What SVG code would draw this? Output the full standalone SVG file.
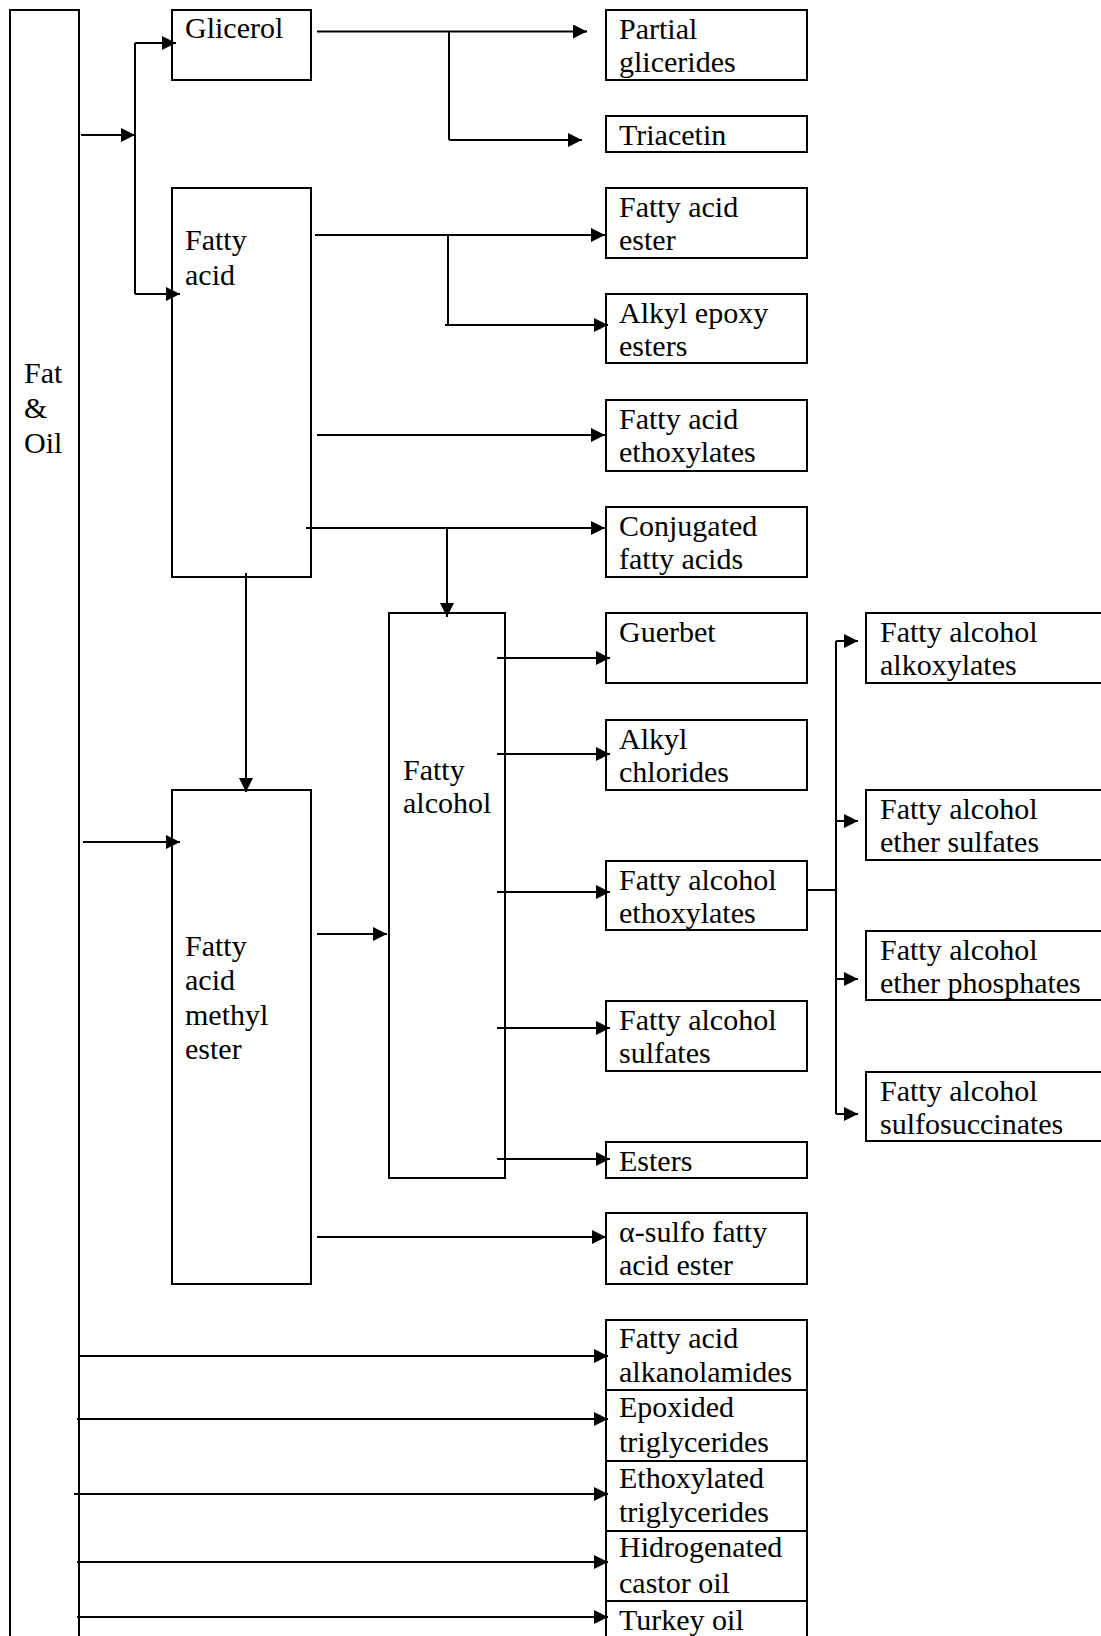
<svg xmlns="http://www.w3.org/2000/svg" width="1101" height="1636" viewBox="0 0 1101 1636">
<style>
rect.box{fill:#fff;stroke:#000;stroke-width:2}
text{font-family:"Liberation Serif","Times New Roman",serif;font-size:30px;fill:#000}
.c line,.c path{stroke:#000;stroke-width:2;fill:none}
</style>
<defs>
<marker id="ah" markerUnits="userSpaceOnUse" markerWidth="14" markerHeight="14" refX="14" refY="7" orient="auto">
<path d="M0,0 L14,7 L0,14 z" fill="#000"/>
</marker>
</defs>
<rect width="1101" height="1636" fill="#fff"/>
<g id="fat-oil"><rect class="box" x="10" y="10" width="69" height="1640"/><text x="24" y="383">Fat</text><text x="24" y="418">&amp;</text><text x="24" y="453">Oil</text></g>
<g id="glicerol"><rect class="box" x="172" y="10" width="139" height="70"/><text x="185" y="38">Glicerol</text></g>
<g id="fatty-acid"><rect class="box" x="172" y="188" width="139" height="389"/><text x="185" y="250">Fatty</text><text x="185" y="285">acid</text></g>
<g id="fame"><rect class="box" x="172" y="790" width="139" height="494"/><text x="185" y="956">Fatty</text><text x="185" y="990">acid</text><text x="185" y="1025">methyl</text><text x="185" y="1059">ester</text></g>
<g id="fatty-alcohol"><rect class="box" x="389" y="613" width="116" height="565"/><text x="403" y="780">Fatty</text><text x="403" y="813">alcohol</text></g>
<g id="partial-glicerides"><rect class="box" x="606" y="10" width="201" height="70"/><text x="619" y="38.5">Partial</text><text x="619" y="72">glicerides</text></g>
<g id="triacetin"><rect class="box" x="606" y="116" width="201" height="36"/><text x="619" y="145">Triacetin</text></g>
<g id="fatty-acid-ester"><rect class="box" x="606" y="188" width="201" height="70"/><text x="619" y="216.5">Fatty acid</text><text x="619" y="250">ester</text></g>
<g id="alkyl-epoxy-esters"><rect class="box" x="606" y="294" width="201" height="69"/><text x="619" y="322.5">Alkyl epoxy</text><text x="619" y="356">esters</text></g>
<g id="fatty-acid-ethoxylates"><rect class="box" x="606" y="400" width="201" height="71"/><text x="619" y="428.5">Fatty acid</text><text x="619" y="462">ethoxylates</text></g>
<g id="conjugated-fatty-acids"><rect class="box" x="606" y="507" width="201" height="70"/><text x="619" y="535.5">Conjugated</text><text x="619" y="569">fatty acids</text></g>
<g id="guerbet"><rect class="box" x="606" y="613" width="201" height="70"/><text x="619" y="641.5">Guerbet</text></g>
<g id="alkyl-chlorides"><rect class="box" x="606" y="720" width="201" height="70"/><text x="619" y="748.5">Alkyl</text><text x="619" y="782">chlorides</text></g>
<g id="fatty-alcohol-ethoxylates"><rect class="box" x="606" y="861" width="201" height="69"/><text x="619" y="889.5">Fatty alcohol</text><text x="619" y="923">ethoxylates</text></g>
<g id="fatty-alcohol-sulfates"><rect class="box" x="606" y="1001" width="201" height="70"/><text x="619" y="1029.5">Fatty alcohol</text><text x="619" y="1063">sulfates</text></g>
<g id="esters"><rect class="box" x="606" y="1142" width="201" height="36"/><text x="619" y="1171">Esters</text></g>
<g id="alpha-sulfo-fatty-acid-ester"><rect class="box" x="606" y="1213" width="201" height="71"/><text x="619" y="1241.5">α-sulfo fatty</text><text x="619" y="1275">acid ester</text></g>
<g id="fatty-acid-alkanolamides"><rect class="box" x="606" y="1320" width="201" height="70"/><text x="619" y="1348">Fatty acid</text><text x="619" y="1382">alkanolamides</text></g>
<g id="epoxided-triglycerides"><rect class="box" x="606" y="1390" width="201" height="71"/><text x="619" y="1417">Epoxided</text><text x="619" y="1452">triglycerides</text></g>
<g id="ethoxylated-triglycerides"><rect class="box" x="606" y="1461" width="201" height="70"/><text x="619" y="1488">Ethoxylated</text><text x="619" y="1522">triglycerides</text></g>
<g id="hidrogenated-castor-oil"><rect class="box" x="606" y="1531" width="201" height="70"/><text x="619" y="1557">Hidrogenated</text><text x="619" y="1593">castor oil</text></g>
<g id="turkey-oil"><rect class="box" x="606" y="1601" width="201" height="50"/><text x="619" y="1630">Turkey oil</text></g>
<g id="fatty-alcohol-alkoxylates"><rect class="box" x="866" y="613" width="250" height="70"/><text x="880" y="641.5">Fatty alcohol</text><text x="880" y="675">alkoxylates</text></g>
<g id="fatty-alcohol-ether-sulfates"><rect class="box" x="866" y="790" width="250" height="70"/><text x="880" y="818.5">Fatty alcohol</text><text x="880" y="852">ether sulfates</text></g>
<g id="fatty-alcohol-ether-phosphates"><rect class="box" x="866" y="931" width="250" height="69"/><text x="880" y="959.5">Fatty alcohol</text><text x="880" y="993">ether phosphates</text></g>
<g id="fatty-alcohol-sulfosuccinates"><rect class="box" x="866" y="1072" width="250" height="69"/><text x="880" y="1100.5">Fatty alcohol</text><text x="880" y="1134">sulfosuccinates</text></g>
<g id="connectors" class="c">
<line x1="81" y1="135" x2="135" y2="135" marker-end="url(#ah)"/>
<line x1="135" y1="43" x2="135" y2="294"/>
<line x1="135" y1="43" x2="176" y2="43" marker-end="url(#ah)"/>
<line x1="135" y1="294" x2="180" y2="294" marker-end="url(#ah)"/>
<line x1="317" y1="31.5" x2="587" y2="31.5" marker-end="url(#ah)"/>
<line x1="449" y1="31.5" x2="449" y2="140"/>
<line x1="449" y1="140" x2="582" y2="140" marker-end="url(#ah)"/>
<line x1="315" y1="235" x2="605" y2="235" marker-end="url(#ah)"/>
<line x1="448" y1="235" x2="448" y2="325"/>
<line x1="445" y1="325" x2="608" y2="325" marker-end="url(#ah)"/>
<line x1="317" y1="435" x2="605" y2="435" marker-end="url(#ah)"/>
<line x1="306" y1="528" x2="605" y2="528" marker-end="url(#ah)"/>
<line x1="447" y1="528" x2="447" y2="617" marker-end="url(#ah)"/>
<line x1="246" y1="573" x2="246" y2="792" marker-end="url(#ah)"/>
<line x1="83" y1="842" x2="180" y2="842" marker-end="url(#ah)"/>
<line x1="317" y1="934" x2="387" y2="934" marker-end="url(#ah)"/>
<line x1="317" y1="1237" x2="606" y2="1237" marker-end="url(#ah)"/>
<line x1="497" y1="658" x2="610" y2="658" marker-end="url(#ah)"/>
<line x1="497" y1="754" x2="610" y2="754" marker-end="url(#ah)"/>
<line x1="497" y1="892" x2="610" y2="892" marker-end="url(#ah)"/>
<line x1="497" y1="1028" x2="610" y2="1028" marker-end="url(#ah)"/>
<line x1="497" y1="1159" x2="610" y2="1159" marker-end="url(#ah)"/>
<line x1="807" y1="890" x2="836" y2="890"/>
<line x1="836" y1="641" x2="836" y2="1114"/>
<line x1="836" y1="641" x2="858" y2="641" marker-end="url(#ah)"/>
<line x1="836" y1="821" x2="858" y2="821" marker-end="url(#ah)"/>
<line x1="836" y1="979" x2="858" y2="979" marker-end="url(#ah)"/>
<line x1="836" y1="1114" x2="858" y2="1114" marker-end="url(#ah)"/>
<line x1="79" y1="1356" x2="608" y2="1356" marker-end="url(#ah)"/>
<line x1="77" y1="1419" x2="608" y2="1419" marker-end="url(#ah)"/>
<line x1="74" y1="1494" x2="608" y2="1494" marker-end="url(#ah)"/>
<line x1="77" y1="1562" x2="608" y2="1562" marker-end="url(#ah)"/>
<line x1="77" y1="1617" x2="608" y2="1617" marker-end="url(#ah)"/>
</g>
</svg>
